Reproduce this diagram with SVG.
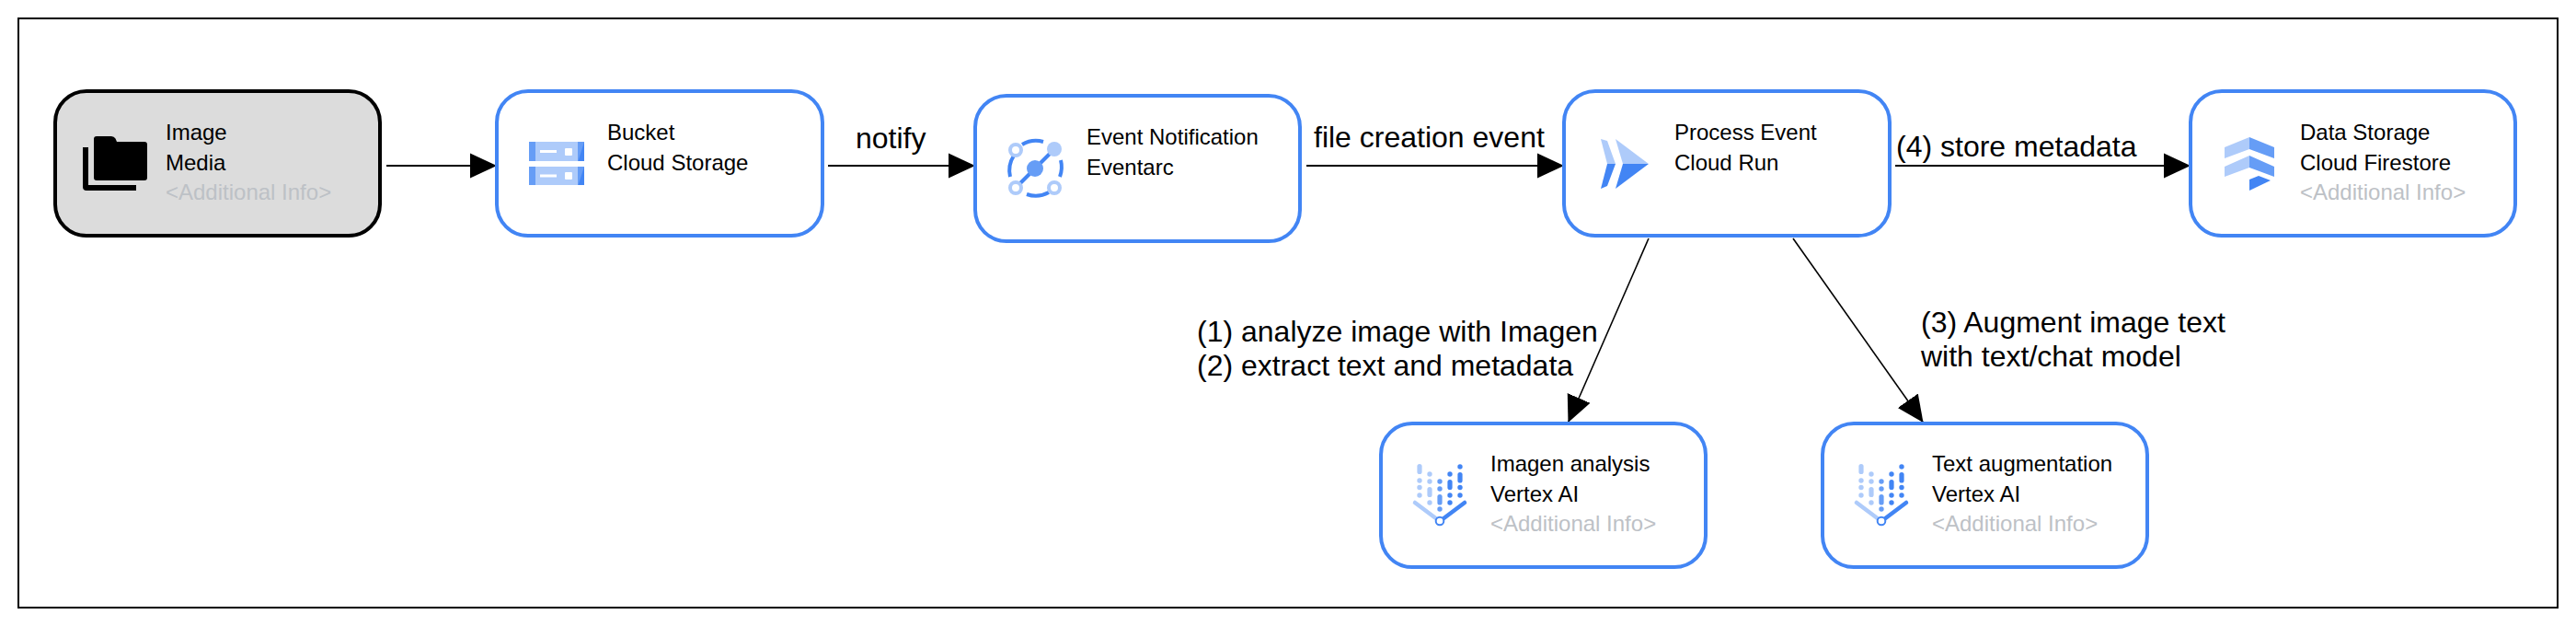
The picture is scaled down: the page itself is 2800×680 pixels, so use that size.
<svg xmlns="http://www.w3.org/2000/svg" xmlns:xlink="http://www.w3.org/1999/xlink" width="2800" height="680" viewBox="0 0 2800 680">
<style>
text{font-family:"Liberation Sans",Arial,sans-serif;fill:#000}
.t{font-size:24px}
.i{font-size:24px;fill:#bdc1c6}
.e{font-size:32px}
.box{fill:#fff;stroke:#4285f4;stroke-width:4}
.l{fill:#aecbfa}.m{fill:#669df6}.d{fill:#4285f4}
.c{stroke:#000;stroke-width:2;fill:none;marker-end:url(#arrow)}
.c2{stroke:#000;stroke-width:1.6;fill:none;marker-end:url(#arrow)}
.arc{fill:none;stroke:#4285f4;stroke-width:4}
</style>
<defs>
<marker id="arrow" markerUnits="userSpaceOnUse" markerWidth="30" markerHeight="28" viewBox="0 0 30 28" refX="29" refY="14" orient="auto"><path d="M0 0.5L29 14L0 27.5Z" fill="#000"/></marker>
<g id="vertex">
<g fill="#aecbfa"><rect x="1540.400" y="504" width="5.200" height="11" rx="2.600"/><circle cx="1543" cy="522" r="2.700"/><circle cx="1543" cy="529.500" r="2.700"/><circle cx="1543" cy="538" r="2.700"/><circle cx="1554" cy="515" r="2.700"/><circle cx="1554" cy="523" r="2.700"/><rect x="1551.400" y="529" width="5.200" height="11" rx="2.600"/><circle cx="1554" cy="546" r="2.700"/></g>
<g fill="#669df6"><circle cx="1565" cy="523" r="2.700"/><circle cx="1565" cy="531" r="2.700"/><rect x="1562.400" y="537" width="5.200" height="11.500" rx="2.600"/><circle cx="1565" cy="553" r="2.700"/></g>
<g fill="#4285f4"><circle cx="1576" cy="515" r="2.700"/><rect x="1573.400" y="521" width="5.200" height="11" rx="2.600"/><circle cx="1576" cy="538" r="2.700"/><circle cx="1576" cy="546" r="2.700"/><circle cx="1587" cy="507" r="2.700"/><rect x="1584.400" y="513" width="5.200" height="11.500" rx="2.600"/><circle cx="1587" cy="529.500" r="2.700"/><circle cx="1587" cy="538" r="2.700"/></g>
<path d="M1538 546L1562 564" stroke="#aecbfa" stroke-width="4.500" stroke-linecap="round" fill="none"/>
<path d="M1592 546L1568 564" stroke="#4285f4" stroke-width="4.500" stroke-linecap="round" fill="none"/>
<circle cx="1565" cy="566" r="4.300" fill="#fff" stroke="#4285f4" stroke-width="2"/>
</g>
</defs>
<rect width="2800" height="680" fill="#fff"/>
<rect id="frame" x="20" y="20" width="2760" height="640" fill="none" stroke="#000" stroke-width="2"/>
<g id="connectors">
<path class="c" d="M420 180H540"/>
<path class="c" d="M900 180H1060"/>
<path class="c" d="M1420 180H1700"/>
<path class="c" d="M2060 180H2381"/>
<path class="c2" d="M1792 259L1704.500 459"/>
<path class="c2" d="M1949 259L2090.500 459"/>
<text class="e" x="930" y="161">notify</text>
<text class="e" x="1428" y="160">file creation event</text>
<text class="e" x="2061" y="170">(4) store metadata</text>
<text class="e" x="1301" y="371">(1) analyze image with Imagen</text>
<text class="e" x="1301" y="408">(2) extract text and metadata</text>
<text class="e" x="2088" y="361">(3) Augment image text</text>
<text class="e" x="2088" y="398">with text/chat model</text>
</g>
<g id="node-image">
<rect x="60" y="99" width="353" height="157" rx="34" fill="#dcdcdc" stroke="#000" stroke-width="4"/>
<path d="M105 148H121Q124 148 125.500 150.500L127 154H157Q160 154 160 157V193Q160 196 157 196H105Q102 196 102 193V151Q102 148 105 148Z" fill="#000"/>
<path d="M90 160H96V201H148V207H94Q90 207 90 203Z" fill="#000"/>
<text class="t" x="180" y="152">Image</text>
<text class="t" x="180" y="185">Media</text>
<text class="i" x="180" y="217">&lt;Additional Info&gt;</text>
</g>
<g id="node-bucket">
<rect class="box" x="540" y="99" width="354" height="157" rx="34"/>
<rect class="l" x="575" y="154" width="60" height="21"/>
<rect class="l" x="575" y="181" width="60" height="20"/>
<rect class="m" x="575" y="154" width="7" height="21"/>
<rect class="m" x="575" y="181" width="7" height="20"/>
<rect class="m" x="628" y="154" width="7" height="21"/>
<rect class="m" x="628" y="181" width="7" height="20"/>
<path class="d" d="M635 154V175H628.500Z M635 181V201H628.500Z"/>
<g fill="#fff"><rect x="587" y="163" width="18" height="3"/><rect x="614" y="161" width="8" height="8" rx="1"/><rect x="587" y="189.500" width="18" height="3"/><rect x="614" y="187" width="8" height="8" rx="1"/></g>
<text class="t" x="660" y="152">Bucket</text>
<text class="t" x="660" y="185">Cloud Storage</text>
</g>
<g id="node-eventarc">
<rect class="box" x="1060" y="104" width="353" height="158" rx="34"/>
<path class="arc" d="M1111 157A30 30 0 0 1 1134 154"/>
<path class="arc" d="M1102 169A30 30 0 0 0 1098 192"/>
<path class="arc" d="M1153 174A30 30 0 0 1 1152 192"/>
<path class="arc" d="M1140 209A30 30 0 0 1 1116 211"/>
<path d="M1105 203L1146 162" stroke="#4285f4" stroke-width="4" fill="none"/>
<circle class="m" cx="1125" cy="183" r="9"/>
<circle class="l" cx="1146" cy="162" r="8"/>
<circle cx="1104" cy="163" r="6" fill="#fff" stroke="#aecbfa" stroke-width="4"/>
<circle cx="1104" cy="204" r="6" fill="#fff" stroke="#aecbfa" stroke-width="4"/>
<circle cx="1146" cy="204" r="6" fill="#fff" stroke="#aecbfa" stroke-width="4"/>
<text class="t" x="1181" y="157">Event Notification</text>
<text class="t" x="1181" y="190">Eventarc</text>
</g>
<g id="node-process">
<rect class="box" x="1700" y="99" width="354" height="157" rx="34"/>
<path class="l" d="M1740 151L1747 153L1756 178H1747Z"/>
<path class="d" d="M1747 178H1756L1747 202L1740 205Z"/>
<path class="l" d="M1756 151L1792 178H1764Z"/>
<path class="d" d="M1764 178H1792L1756 205Z"/>
<text class="t" x="1820" y="152">Process Event</text>
<text class="t" x="1820" y="185">Cloud Run</text>
</g>
<g id="node-firestore">
<rect class="box" x="2381" y="99" width="353" height="157" rx="34"/>
<path class="l" d="M2445 149L2418 160V172L2445 162Z M2445 169L2418 181V192L2445 182Z"/>
<path class="m" d="M2445 149L2472 160V172L2445 162Z M2445 169L2472 181V192L2445 182Z"/>
<path class="d" d="M2455 191L2468 196L2445 207V195Z"/>
<text class="t" x="2500" y="152">Data Storage</text>
<text class="t" x="2500" y="185">Cloud Firestore</text>
<text class="i" x="2500" y="217">&lt;Additional Info&gt;</text>
</g>
<g id="node-imagen">
<rect class="box" x="1501" y="460" width="353" height="156" rx="34"/>
<use xlink:href="#vertex" href="#vertex"/>
<text class="t" x="1620" y="512">Imagen analysis</text>
<text class="t" x="1620" y="545">Vertex AI</text>
<text class="i" x="1620" y="577">&lt;Additional Info&gt;</text>
</g>
<g id="node-text">
<rect class="box" x="1981" y="460" width="353" height="156" rx="34"/>
<use xlink:href="#vertex" href="#vertex" x="480"/>
<text class="t" x="2100" y="512">Text augmentation</text>
<text class="t" x="2100" y="545">Vertex AI</text>
<text class="i" x="2100" y="577">&lt;Additional Info&gt;</text>
</g>
</svg>
